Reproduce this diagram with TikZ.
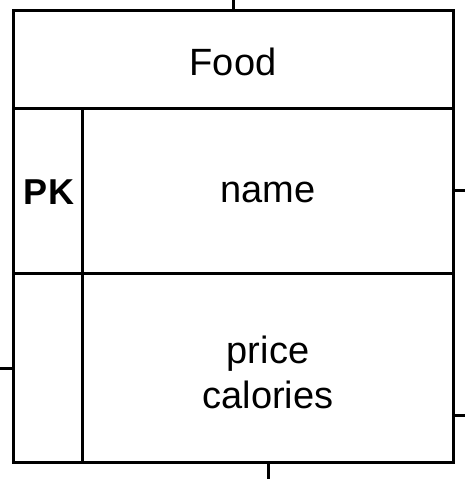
\documentclass[tikz,border=0pt]{standalone}
\usepackage{fontspec}
\setmainfont{Liberation Sans}
\begin{document}
\begin{tikzpicture}[x=1pt,y=-1pt,
  ln/.style={line width=3pt},
  lbl/.style={font=\fontsize{38}{45}\selectfont, align=center, inner sep=0pt}]
\useasboundingbox (0,0) rectangle (465,479);
\coordinate (tl) at (13,10);
\coordinate (br) at (453,462);
\draw[ln] (tl) rectangle (br);
\draw[ln] (13,108) -- (453,108);
\draw[ln] (13,273) -- (453,273);
\draw[ln] (82,108) -- (82,462);
% stubs
\coordinate (s1a) at (233,0);   \coordinate (s1b) at (233,10);
\coordinate (s2a) at (453,190); \coordinate (s2b) at (465,190);
\coordinate (s3a) at (0,368);   \coordinate (s3b) at (13,368);
\coordinate (s4a) at (453,415); \coordinate (s4b) at (465,415);
\coordinate (s5a) at (268,462); \coordinate (s5b) at (268,479);
\draw[ln] (s1a) -- (s1b);
\draw[ln] (s2a) -- (s2b);
\draw[ln] (s3a) -- (s3b);
\draw[ln] (s4a) -- (s4b);
\draw[ln] (s5a) -- (s5b);
\node[lbl] (food) at (233,62) {Food};
\node[lbl, font=\fontsize{36}{42}\selectfont\bfseries] (pk) at (49,192) {PK};
\node[lbl] (name) at (268,192) {name};
\node[lbl] (attr) at (268,372) {price\\calories};
\end{tikzpicture}
\end{document}
